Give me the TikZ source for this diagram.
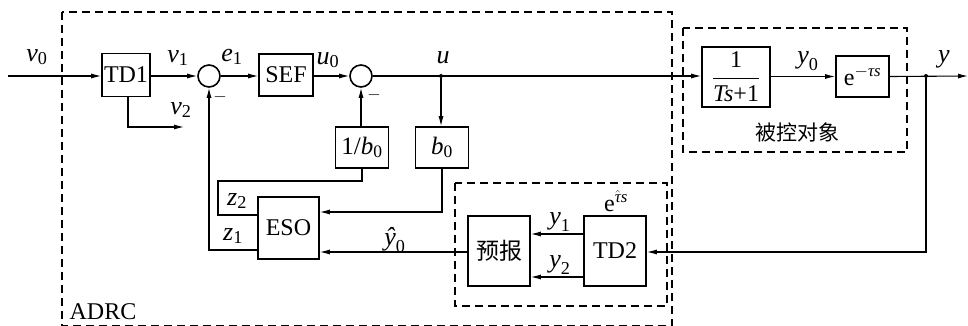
\documentclass[tikz,border=0pt]{standalone}
\usepackage{amsmath}
\usepackage{fontspec}
\setmainfont{Liberation Serif}
\newfontfamily\cjk{Noto Sans CJK SC}
\usetikzlibrary{arrows.meta}
\newcommand{\mv}[1]{\textit{#1}}
\newcommand{\sd}[1]{\text{#1}}
\begin{document}
\begin{tikzpicture}[x=1pt,y=-1pt,
  blk/.style={draw,line width=1.6pt,inner sep=0pt,font=\fontsize{24}{28}\selectfont},
  sumc/.style={draw,circle,line width=1.6pt,minimum size=22pt,inner sep=0pt},
  sig/.style={line width=1.1pt},
  arr/.style={sig,-{Latex[length=10pt,width=5pt]}},
  dbox/.style={draw,line width=1.3pt,dash pattern=on 8pt off 5pt},
  lbl/.style={font=\fontsize{26}{30}\selectfont,inner sep=0pt},
  mns/.style={font=\fontsize{18}{20}\selectfont,inner sep=0pt},
  jdot/.style={circle,fill,inner sep=0pt,minimum size=4pt}]
\useasboundingbox (0,0) rectangle (968,326);
% dashed frames
\draw[dbox] (62,12) rectangle (672,326);
\draw[dbox] (683,28) rectangle (907,152);
\draw[dbox] (455,183) rectangle (667,306);
\node[inner sep=0pt,font=\fontsize{24}{28}\selectfont] (adrc) at (103,312) {ADRC};
\node[inner sep=0pt,font=\cjk\fontsize{21}{24}\selectfont] (plantlbl) at (797,132) {被控对象};
% blocks
\node[blk,minimum width=48pt,minimum height=43pt] (td1) at (126,75) {TD1};
\node[sumc] (s1) at (209,76) {};
\node[blk,minimum width=54pt,minimum height=42pt] (sef) at (286,75) {SEF};
\node[sumc] (s2) at (361,76) {};
\node[blk,minimum width=53pt,minimum height=41pt,font=\fontsize{25}{28}\selectfont] (ib0) at (362,147.5) {1/$\mv{b}_{\sd{0}}$};
\node[blk,minimum width=53pt,minimum height=41pt,font=\fontsize{25}{28}\selectfont] (b0) at (442,147.5) {$\mv{b}_{\sd{0}}$};
\node[blk,minimum width=61pt,minimum height=62pt] (eso) at (288.5,228) {ESO};
\node[blk,minimum width=62pt,minimum height=70pt,font=\cjk\fontsize{23}{26}\selectfont] (pred) at (499,251) {预报};
\node[blk,minimum width=62pt,minimum height=70pt] (td2) at (615,251) {TD2};
\node[blk,minimum width=68pt,minimum height=60pt] (g) at (736,77) {$\dfrac{\sd{1}}{\mv{Ts}\sd{+1}}$};
\node[blk,minimum width=53pt,minimum height=41pt] (dl) at (862.5,76.5) {e$^{-\mv{τs}}$};
% coordinates
\coordinate (in) at (8,76);
\coordinate (out) at (968,76);
\node[jdot] (ju) at (441,76) {};
\node[jdot] (jy) at (926,76) {};
\coordinate (v2e) at (184,127);
\coordinate (v2s) at (128,96.5);
% main path
\draw[arr] (in) -- (td1.west |- in);
\draw[arr] (td1.east |- s1) -- (s1.west);
\draw[arr] (s1.east) -- (sef.west |- s1);
\draw[arr] (sef.east |- s2) -- (s2.west);
\draw[arr] (s2.east) -- (g.west |- s2);
\draw[arr] (g.east |- dl) -- (dl.west);
\draw[arr] (dl.east) -- (out);
\draw[arr] (v2s) -- (v2s |- v2e) -- (v2e);
\draw[arr] (ju) -- (ju |- b0.north);
\draw[arr] (ib0.north -| s2) -- (s2.south);
\draw[arr] (b0.south) -- (b0.south |- 0,212) -- (eso.east |- 0,212);
\draw[sig] (eso.west |- 0,215) -- (218,215) -- (218,181) -- (362,181) -- (ib0.south);
\draw[arr] (eso.west |- 0,250) -- (209,250) -- (s1.south);
\draw[arr] (pred.west |- 0,252) -- (eso.east |- 0,252);
\draw[arr] (jy) -- (926,252) -- (td2.east |- 0,252);
\draw[arr] (td2.west |- 0,234) -- (pred.east |- 0,234);
\draw[arr] (td2.west |- 0,277) -- (pred.east |- 0,277);
% labels
\node[lbl] at (37,57) {$\mv{v}_{\sd{0}}$};
\node[lbl] at (178,58) {$\mv{v}_{\sd{1}}$};
\node[lbl] at (181,110) {$\mv{v}_{\sd{2}}$};
\node[lbl] at (232,57) {$\mv{e}_{\sd{1}}$};
\node[lbl] at (328,60) {$\mv{u}_{\sd{0}}$};
\node[lbl] at (443,58) {$\mv{u}$};
\node[lbl] at (808,61) {$\mv{y}_{\sd{0}}$};
\node[lbl] at (944,59) {$\mv{y}$};
\node[lbl] at (237,201) {$\mv{z}_{\sd{2}}$};
\node[lbl] at (233,236) {$\mv{z}_{\sd{1}}$};
\node[lbl] at (395,240) {$\mv{ŷ}_{\sd{0}}$};
\node[lbl] at (560,222) {$\mv{y}_{\sd{1}}$};
\node[lbl] at (560,265) {$\mv{y}_{\sd{2}}$};
\node[inner sep=0pt,font=\fontsize{24}{28}\selectfont] at (616,201) {e$^{\hat{\mv{τ}}\mv{s}}$};
\node[mns] at (220,97) {$-$};
\node[mns] at (374,95) {$-$};
\end{tikzpicture}
\end{document}
